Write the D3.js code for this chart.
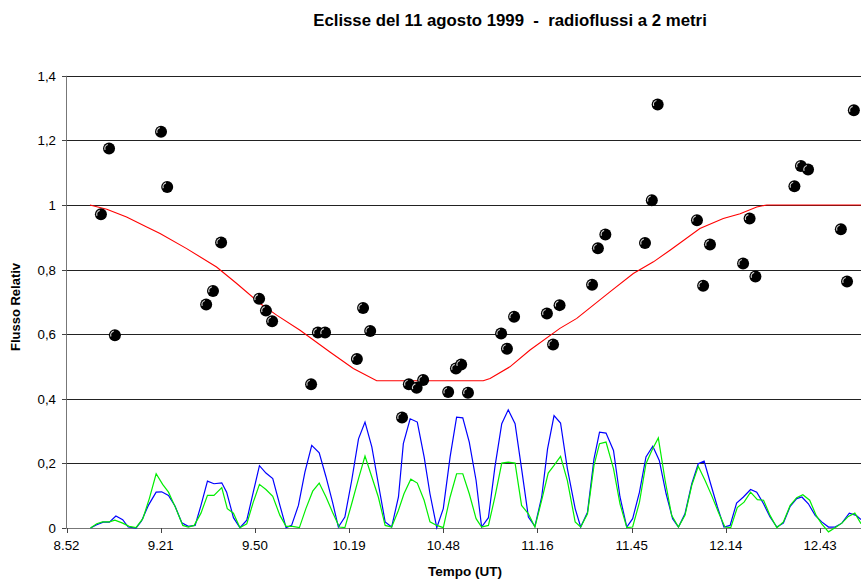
<!DOCTYPE html>
<html>
<head>
<meta charset="utf-8">
<script src="https://cdn.jsdelivr.net/npm/d3@7"></script>
<style>
  body { margin: 0; background: #fff; }
  svg { display: block; font-family: 'Liberation Sans', Arial, sans-serif; }
</style>
</head>
<body>
<div class="wrapper"></div>
<script>
// minutes after 8.52 -> value
const measured = [
  [10.6, 0.971], [13.1, 1.175], [14.9, 0.597], [29.1, 1.227], [31.0, 1.056],
  [43.0, 0.692], [45.1, 0.734], [47.6, 0.884], [59.3, 0.710], [61.4, 0.673],
  [63.3, 0.640], [75.3, 0.445], [77.4, 0.605], [79.6, 0.605], [89.4, 0.523],
  [91.3, 0.681], [93.5, 0.610], [103.3, 0.342], [105.4, 0.445], [107.8, 0.434],
  [109.8, 0.458], [117.5, 0.421], [119.9, 0.494], [121.5, 0.506], [123.6, 0.419],
  [133.8, 0.602], [135.6, 0.555], [137.8, 0.654], [147.9, 0.664], [149.8, 0.568],
  [151.8, 0.690], [161.8, 0.753], [163.6, 0.866], [165.9, 0.909], [178.1, 0.882],
  [180.2, 1.015], [182.0, 1.311], [194.1, 0.953], [196.0, 0.750], [198.1, 0.878],
  [208.3, 0.819], [210.3, 0.958], [212.1, 0.779], [224.1, 1.058], [226.1, 1.121],
  [228.3, 1.110], [238.4, 0.925], [240.3, 0.763], [242.4, 1.293]
]

const model = [
  [7.2, 1.0], [12.4, 0.987], [18.5, 0.963], [24.7, 0.932], [28.8, 0.912],
  [37.0, 0.865], [46.2, 0.808], [52.4, 0.757], [59.6, 0.695], [64.7, 0.659],
  [71.9, 0.612], [81.1, 0.545], [88.3, 0.494], [95.5, 0.456], [128.3, 0.456],
  [130.4, 0.463], [136.5, 0.499], [142.7, 0.551], [151.9, 0.618], [157.1, 0.649],
  [167.3, 0.731], [174.5, 0.788], [180.7, 0.824], [185.8, 0.860], [195.0, 0.927],
  [202.2, 0.958], [207.4, 0.973], [212.5, 0.994], [215.6, 1.0], [244.6, 1.0]
]

const blue = [
  [7.4, 0], [9.3, .010], [11.3, .018], [13.2, .018], [15.2, .037], [17.3, .026], [19.0, .003],
  [21.4, 0], [23.1, .022], [25.2, .070], [27.6, .111], [29.3, .112], [31.4, .101], [33.4, .068],
  [35.5, .016], [37.5, .005], [39.6, .008], [41.4, .070], [43.4, .145], [45.4, .137], [47.8, .140],
  [49.3, .111], [51.4, .032], [53.4, .001], [55.5, .024], [57.5, .111], [59.4, .193], [61.4, .170],
  [63.5, .153], [65.7, .070], [67.6, .001], [69.3, .008], [71.4, .070], [73.4, .173], [75.5, .256],
  [77.8, .233], [79.9, .158], [81.9, .080], [83.7, .003], [85.7, .034], [87.8, .147], [89.9, .276],
  [91.9, .328], [94.0, .251], [96.0, .137], [98.1, .019], [100.1, .003], [102.2, .096], [103.7, .261],
  [105.8, .338], [108.0, .328], [110.1, .220], [111.9, .106], [114.0, .001], [116.0, .060], [118.1, .220],
  [120.1, .343], [122.0, .341], [124.0, .266], [126.1, .147], [127.8, .003], [129.9, .032], [131.9, .189],
  [134.0, .323], [136.0, .366], [138.1, .323], [140.1, .184], [142.2, .034], [144.2, .005], [146.3, .096],
  [148.1, .245], [150.1, .348], [152.1, .325], [154.2, .184], [156.6, .060], [158.3, .003], [160.4, .049],
  [162.4, .214], [164.1, .297], [166.1, .294], [168.4, .240], [170.4, .096], [172.5, .003], [174.3, .029],
  [176.4, .111], [178.4, .220], [180.5, .253], [182.5, .209], [184.6, .106], [186.6, .029], [188.4, .003],
  [190.4, .044], [192.5, .137], [194.5, .199], [196.3, .207], [198.3, .137], [200.4, .065], [202.4, .003],
  [204.3, .008], [206.3, .077], [208.4, .096], [210.6, .119], [212.5, .111], [214.6, .075], [216.6, .034],
  [218.7, .003], [220.7, .015], [222.8, .067], [224.8, .091], [226.4, .096], [228.4, .075], [230.5, .039],
  [232.5, .019], [234.6, .003], [236.6, .003], [238.7, .015], [241.0, .046], [243.1, .039], [244.6, .026]
]

const green = [
  [7.4, 0], [9.3, .013], [11.1, .019], [13.2, .019], [14.9, .024], [17.3, .015], [19.3, .005],
  [21.4, .001], [23.5, .029], [25.5, .091], [27.6, .168], [29.6, .135], [31.4, .111], [33.7, .060],
  [35.8, .008], [37.5, .003], [39.3, .008], [41.4, .046], [43.4, .101], [45.4, .101], [47.8, .125],
  [49.5, .060], [51.4, .046], [53.4, .001], [55.5, .013], [57.5, .080], [59.4, .135], [61.4, .119],
  [63.5, .098], [65.7, .039], [67.6, .005], [69.6, .005], [71.7, .001], [73.7, .060], [75.8, .114],
  [77.8, .139], [79.9, .096], [81.9, .049], [84.0, .003], [85.7, .001], [87.8, .075], [89.9, .153],
  [91.9, .223], [94.0, .158], [96.0, .096], [98.1, .008], [100.1, .003], [102.2, .055], [103.9, .106],
  [106.0, .151], [108.0, .139], [110.1, .086], [111.9, .019], [114.0, .008], [116.0, .001], [118.1, .096],
  [120.1, .168], [122.0, .168], [124.0, .106], [126.1, .029], [127.8, .003], [129.9, .008], [131.9, .096],
  [134.0, .201], [136.0, .204], [138.1, .201], [140.1, .070], [142.2, .044], [144.2, .003], [146.3, .086],
  [148.3, .170], [150.1, .194], [152.1, .222], [154.2, .147], [156.6, .019], [158.3, .003], [160.4, .044],
  [162.4, .194], [164.1, .261], [166.1, .266], [168.4, .184], [170.4, .075], [172.5, .001], [174.3, .003],
  [176.4, .080], [178.4, .199], [180.2, .240], [182.2, .279], [184.3, .147], [186.3, .039], [188.4, .003],
  [190.4, .039], [192.5, .132], [194.5, .191], [196.6, .147], [198.6, .101], [200.7, .049], [202.7, .003],
  [204.5, .001], [206.5, .063], [208.6, .080], [210.6, .111], [212.7, .088], [214.6, .086], [216.6, .039],
  [218.7, .001], [220.7, .019], [222.8, .070], [224.8, .094], [226.7, .103], [228.8, .086], [230.8, .039],
  [232.5, .013], [234.6, -.012], [236.6, .001], [238.7, .015], [240.7, .036], [242.7, .046], [244.6, .013]
]

const xTickPos = [0, 29, 58, 87, 116, 145, 174, 203, 232]
const xTickLabels = ['8.52', '9.21', '9.50', '10.19', '10.48', '11.16', '11.45', '12.14', '12.43']
const yTicks = [0, 0.2, 0.4, 0.6, 0.8, 1, 1.2, 1.4]

const width = 861, height = 579
const plot = { left: 66.5, right: 861, top: 75.8, bottom: 528 }

const x = d3.scaleLinear().domain([0, 244.6]).range([plot.left, plot.right])
const y = d3.scaleLinear().domain([0, 1.4]).range([plot.bottom, plot.top])

const svg = d3.select('.wrapper')
  .append('svg')
  .attr('width', width)
  .attr('height', height)

// gridlines
svg.append('g')
  .selectAll('line')
  .data(yTicks.filter(d => d > 0))
  .enter().append('line')
  .attr('x1', plot.left)
  .attr('x2', plot.right)
  .attr('y1', d => Math.round(y(d)) + 0.5)
  .attr('y2', d => Math.round(y(d)) + 0.5)
  .attr('stroke', '#222')
  .attr('stroke-width', 1)

// y axis
const yAxis = svg.append('g')
yAxis.append('line')
  .attr('x1', 66.5).attr('x2', 66.5)
  .attr('y1', plot.top).attr('y2', plot.bottom)
  .attr('stroke', '#777')
yAxis.selectAll('.tk')
  .data(yTicks)
  .enter().append('line')
  .attr('x1', 62).attr('x2', 66.5)
  .attr('y1', d => Math.round(y(d)) + 0.5)
  .attr('y2', d => Math.round(y(d)) + 0.5)
  .attr('stroke', '#444')
yAxis.selectAll('text')
  .data(yTicks)
  .enter().append('text')
  .attr('x', 56)
  .attr('y', d => y(d) + 5)
  .attr('text-anchor', 'end')
  .attr('font-size', '13.3px')
  .text(d => d3.format('.1f')(d).replace(/\.0$/, '').replace('.', ','))

// x axis
const xAxis = svg.append('g')
xAxis.append('line')
  .attr('x1', plot.left).attr('x2', plot.right)
  .attr('y1', 528.5).attr('y2', 528.5)
  .attr('stroke', '#777')
xAxis.selectAll('.tk')
  .data(xTickPos)
  .enter().append('line')
  .attr('x1', d => Math.round(x(d)) + 0.5)
  .attr('x2', d => Math.round(x(d)) + 0.5)
  .attr('y1', 528).attr('y2', 533)
  .attr('stroke', '#444')
xAxis.selectAll('text')
  .data(xTickPos)
  .enter().append('text')
  .attr('x', d => x(d))
  .attr('y', 550)
  .attr('text-anchor', 'middle')
  .attr('font-size', '13.3px')
  .text((d, i) => xTickLabels[i])

const line = d3.line()
  .x(d => x(d[0]))
  .y(d => y(d[1]))

svg.append('path')
  .datum(blue)
  .attr('d', line)
  .attr('fill', 'none')
  .attr('stroke', '#0000ff')
  .attr('stroke-width', 1.2)

svg.append('path')
  .datum(green)
  .attr('d', line)
  .attr('fill', 'none')
  .attr('stroke', '#00ee00')
  .attr('stroke-width', 1.2)

svg.append('path')
  .datum(model)
  .attr('d', line)
  .attr('fill', 'none')
  .attr('stroke', '#ff0000')
  .attr('stroke-width', 1.1)

// markers
const shine = d3.arc()
  .innerRadius(3.6)
  .outerRadius(4.8)
  .startAngle(-1.9)
  .endAngle(-0.3)

const dots = svg.append('g')
  .selectAll('g')
  .data(measured)
  .enter().append('g')
  .attr('transform', d => `translate(${x(d[0])}, ${y(d[1])})`)

dots.append('circle')
  .attr('r', 6)
  .attr('fill', '#000')

dots.append('path')
  .attr('d', shine)
  .attr('fill', '#d8d8d8')

// titles
svg.append('text')
  .attr('x', 510)
  .attr('y', 26)
  .attr('text-anchor', 'middle')
  .attr('font-size', '16.8px')
  .attr('font-weight', 'bold')
  .style('white-space', 'pre')
  .text('Eclisse del 11 agosto 1999  -  radioflussi a 2 metri')

svg.append('text')
  .attr('transform', 'translate(20, 307) rotate(-90)')
  .attr('text-anchor', 'middle')
  .attr('font-size', '13px')
  .attr('font-weight', 'bold')
  .text('Flusso Relativ')

svg.append('text')
  .attr('x', 465)
  .attr('y', 576)
  .attr('text-anchor', 'middle')
  .attr('font-size', '13.5px')
  .attr('font-weight', 'bold')
  .text('Tempo (UT)')
</script>
</body>
</html>
